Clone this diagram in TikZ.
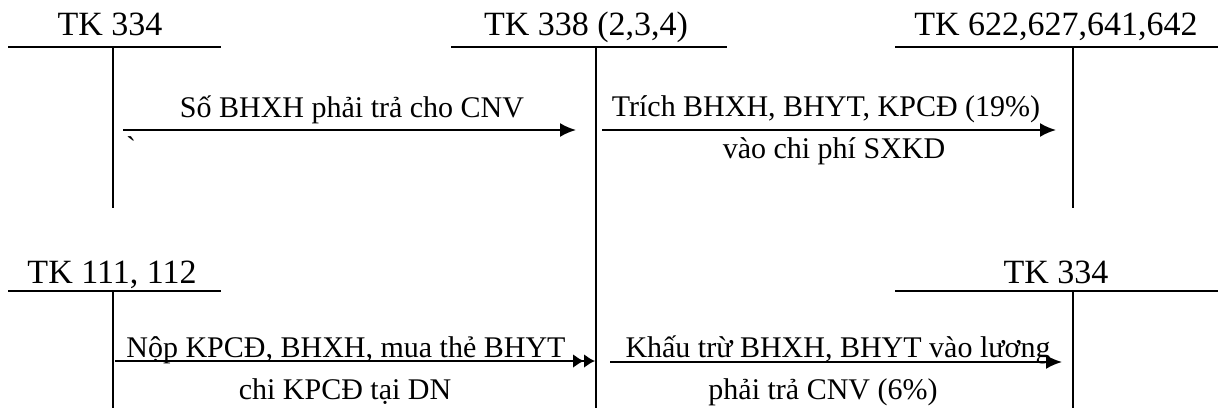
\documentclass[tikz,border=0pt]{standalone}
\usepackage{fontspec}
\setmainfont{Liberation Serif}
% plain family without TeX ligatures, so that ` stays a grave mark
\newfontfamily\gravefont{Liberation Serif}
\usetikzlibrary{arrows.meta}
\begin{document}
\begin{tikzpicture}[x=1pt,y=-1pt,
  acct/.style={line width=2pt},
  head/.style={anchor=base,inner sep=0pt,font=\fontsize{34}{38}\selectfont},
  lbl/.style={anchor=base,inner sep=0pt,font=\fontsize{30}{34}\selectfont},
  flow/.style={line width=2pt,-{Latex[length=16pt,width=14pt]}},
  flowtwo/.style={line width=2pt,-{Latex[length=11pt,width=14pt]Latex[length=11pt,width=14pt]}}]
\useasboundingbox (0,0) rectangle (1218,408);

% ---- T-account headings ----
\node[head] (h334) at (110,35) {TK 334};
\node[head] (h338) at (586,35) {TK 338 (2,3,4)};
\node[head] (h622) at (1056,35) {TK 622,627,641,642};
\node[head] (h111) at (112,283) {TK 111, 112};
\node[head] (h334b) at (1056,283) {TK 334};

% ---- T-account rules ----
\coordinate (a1l) at (8,47);   \coordinate (a1r) at (221,47);
\coordinate (a1t) at (113,47); \coordinate (a1b) at (113,208);
\coordinate (a2l) at (451,47); \coordinate (a2r) at (727,47);
\coordinate (a2t) at (596,47); \coordinate (a2b) at (596,408);
\coordinate (a3l) at (895,47); \coordinate (a3r) at (1218,47);
\coordinate (a3t) at (1073,47); \coordinate (a3b) at (1073,208);
\coordinate (a4l) at (8,291);  \coordinate (a4r) at (221,291);
\coordinate (a4t) at (113,291); \coordinate (a4b) at (113,408);
\coordinate (a5l) at (895,291); \coordinate (a5r) at (1218,291);
\coordinate (a5t) at (1073,291); \coordinate (a5b) at (1073,408);

\foreach \k in {1,...,5}{
  \draw[acct] (a\k l) -- (a\k r);
  \draw[acct] (a\k t) -- (a\k b);
}

% ---- entries ----
\coordinate (e1s) at (123,130); \coordinate (e1e) at (576,130);
\draw[flow] (e1s) -- (e1e);
\node[lbl] (t1) at (352,117) {Số BHXH phải trả cho CNV};
\node[lbl] (t1b) at (131,157) {\gravefont `};

\coordinate (e2s) at (602,130); \coordinate (e2e) at (1056,130);
\draw[flow] (e2s) -- (e2e);
\node[lbl] (t2) at (826,116) {Trích BHXH, BHYT, KPCĐ (19\%)};
\node[lbl] (t2b) at (834,158) {vào chi phí SXKD};

\coordinate (e3s) at (115,361); \coordinate (e3e) at (595,361);
\draw[flowtwo] (e3s) -- (e3e);
\node[lbl] (t3) at (346,357) {Nộp KPCĐ, BHXH, mua thẻ BHYT};
\node[lbl] (t3b) at (345,399) {chi KPCĐ tại DN};

\coordinate (e4s) at (610,362); \coordinate (e4e) at (1062,362);
\draw[flow] (e4s) -- (e4e);
\node[lbl] (t4) at (838,357) {Khấu trừ BHXH, BHYT vào lương};
\node[lbl] (t4b) at (823,399) {phải trả CNV (6\%)};
\end{tikzpicture}
\end{document}
